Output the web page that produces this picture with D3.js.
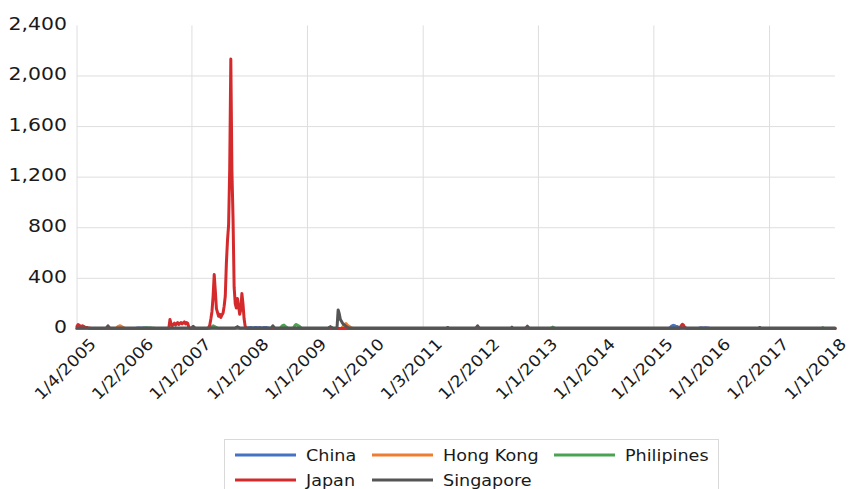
<!DOCTYPE html>
<html>
<head>
<meta charset="utf-8">
<script src="https://cdn.jsdelivr.net/npm/d3@7"></script>
<style>
  html, body { margin: 0; padding: 0; background: #fff; }
  svg { display: block; font-family: "DejaVu Sans", sans-serif; }
</style>
</head>
<body>
<svg id="chart" width="859" height="489"></svg>
<script>
// Weekly observations, first week starting 1/4/2005 (one row per year, 52 weeks).
const firstWeek = "1/4/2005";

const china = [
  4,4,4,4,4,4,4,4,4,4,4,4,4, 4,4,4,4,4,4,4,4,4,4,4,4,4, 4,4,4,4,4,4,4,4,4,4,4,4,4, 4,4,4,4,4,4,4,4,4,4,4,4,4,
  4,4,6,8,7,8,6,7,8,6,7,8,6, 5,5,4,4,4,4,4,4,4,4,4,4,4, 4,4,4,4,4,4,4,4,4,4,4,4,4, 4,4,4,4,4,4,4,4,4,4,4,4,4,
  4,4,4,4,4,4,4,4,4,4,4,4,4, 4,4,4,4,4,4,4,4,4,4,4,4,4, 4,4,4,4,4,4,4,4,4,4,4,4,4, 4,4,4,4,4,4,4,4,4,4,4,8,10,
  10,12,10,8,10,12,11,9,10,12,10,8,9, 11,10,12,9,8,6,4,4,4,4,4,4,4, 4,4,4,4,4,4,4,4,4,4,4,4,4, 4,4,4,4,4,4,4,4,4,4,4,4,4,
  4,4,4,4,4,4,4,4,4,4,4,4,4, 4,4,4,4,4,4,4,4,4,4,4,4,4, 4,4,4,4,4,4,4,4,4,4,4,4,4, 4,4,4,4,4,4,4,4,4,4,4,4,4,
  4,4,4,4,4,4,4,4,4,4,4,4,4, 4,4,4,4,4,4,4,4,4,4,4,4,4, 4,4,4,4,4,4,4,4,4,4,4,4,4, 4,4,4,4,4,4,4,4,4,4,4,4,4,
  4,4,4,4,4,4,4,4,4,4,4,4,4, 4,4,4,4,4,4,4,4,4,4,4,4,4, 4,4,4,4,4,4,4,4,4,4,4,4,4, 4,4,4,4,4,4,4,4,4,4,4,4,4,
  4,4,4,4,4,4,4,4,4,4,4,4,4, 4,4,4,4,4,4,4,4,4,4,4,4,4, 4,4,4,4,4,4,4,4,4,4,4,4,4, 4,4,4,4,4,4,4,4,4,4,4,4,4,
  4,4,4,4,4,4,4,4,4,4,4,4,4, 4,4,4,4,4,4,4,4,4,4,4,4,4, 4,4,4,4,4,4,4,4,4,4,4,4,4, 4,4,4,4,4,4,4,4,4,4,4,4,4,
  4,4,4,4,4,4,4,4,4,4,4,4,4, 4,4,4,4,4,4,4,4,4,4,4,4,4, 4,4,4,4,4,4,4,4,4,4,4,4,4, 4,4,4,4,4,4,4,4,4,4,4,4,4,
  4,4,4,4,4,4,4,4,4,4,4,4,4, 4,4,4,10,20,25,28,25,22,20,15,12,8, 6,4,4,4,4,4,4,4,4,4,4,4,4, 4,4,4,4,8,9,8,7,8,9,8,7,6,
  4,4,4,4,4,4,4,4,4,4,4,4,4, 4,4,4,4,4,4,4,4,4,4,4,4,4, 4,4,4,4,4,4,4,4,4,4,4,4,4, 4,4,4,4,4,4,4,4,4,4,4,4,4,
  4,4,4,4,4,4,4,4,4,4,4,4,4, 4,4,4,4,4,4,4,4,4,4,4,4,4, 4,4,4,4,4,4,4,4,4,4,4,4,4, 4,4,4,4,4,4,4,4,4,4,4,4,4,
  4,4,4,4,4,4,4,4,4,4
];

const hongKong = [
  4,4,4,4,4,4,4,4,4,4,4,4,4, 4,4,4,4,4,4,4,4,4,4,4,4,4, 4,4,4,4,4,4,4,4,4,4,10,18,22, 25,20,15,10,6,4,4,4,4,4,4,4,4,
  4,4,4,4,4,4,4,4,4,4,4,4,4, 4,4,4,4,4,4,4,4,4,4,4,4,4, 4,4,4,4,4,4,4,4,4,4,4,4,4, 4,4,4,4,4,4,4,4,4,4,4,4,4,
  4,4,4,4,4,4,4,4,4,4,4,4,4, 4,4,4,4,4,4,4,4,4,4,4,4,4, 4,4,4,4,4,4,4,4,4,4,4,4,4, 4,4,4,4,4,4,4,4,4,4,4,4,4,
  4,4,4,4,4,4,4,4,4,4,4,4,4, 4,4,4,4,4,4,4,4,4,4,4,4,4, 4,4,4,4,4,4,4,4,4,4,4,4,4, 4,4,4,4,4,4,4,4,4,4,4,4,4,
  4,4,4,4,4,4,4,4,4,4,4,4,4, 4,4,4,4,4,4,4,4,4,4,4,4,4, 4,4,4,4,4,4,15,25,35,42,32,25,20, 12,8,4,4,4,4,4,4,4,4,4,4,4,
  4,4,4,4,4,4,4,4,4,4,4,4,4, 4,4,4,4,4,4,4,4,4,4,4,4,4, 4,4,4,4,4,4,4,4,4,4,4,4,4, 4,4,4,4,4,4,4,4,4,4,4,4,4,
  4,4,4,4,4,4,4,4,4,4,4,4,4, 4,4,4,4,4,4,4,4,4,4,4,4,4, 4,4,4,4,4,4,4,4,4,4,4,4,4, 4,4,4,4,4,4,4,4,4,4,4,4,4,
  4,4,4,4,4,4,4,4,4,4,4,4,4, 4,4,4,4,4,4,4,4,4,4,4,4,4, 4,4,4,4,4,4,4,4,4,4,4,4,4, 4,4,4,4,4,4,4,4,4,4,4,4,4,
  4,4,4,4,4,4,4,4,4,4,4,4,4, 4,4,4,4,4,4,4,4,4,4,4,4,4, 4,4,4,4,4,4,4,4,4,4,4,4,4, 4,4,4,4,4,4,4,4,4,4,4,4,4,
  4,4,4,4,4,4,4,4,4,4,4,4,4, 4,4,4,4,4,4,4,4,4,4,4,4,4, 4,4,4,4,4,4,4,4,4,4,4,4,4, 4,4,4,4,4,4,4,4,4,4,4,4,4,
  4,4,4,4,4,4,4,4,4,4,4,4,4, 4,4,4,4,4,4,4,4,4,4,4,4,4, 4,4,4,4,4,4,4,4,4,4,4,4,4, 4,4,4,4,4,4,4,4,4,4,4,4,4,
  4,4,4,4,4,4,4,4,4,4,4,4,4, 4,4,4,4,4,4,4,4,4,4,4,4,4, 4,4,4,4,4,4,4,4,4,4,4,4,4, 4,4,4,4,4,4,4,4,4,4,4,4,4,
  4,4,4,4,4,4,4,4,4,4,4,4,4, 4,4,4,4,4,4,4,4,4,4,4,4,4, 4,4,4,4,4,4,4,4,4,4,4,4,4, 4,4,4,4,4,4,4,4,4,4,4,4,4,
  4,4,4,4,4,4,4,4,4,4
];

const philippines = [
  4,4,4,4,4,4,4,4,4,4,4,4,4, 4,4,4,4,4,4,4,4,4,4,4,4,4, 4,4,4,4,4,4,4,4,4,4,4,4,4, 4,4,4,4,4,4,4,4,4,4,4,4,4,
  4,4,4,4,4,4,4,4,6,7,6,8,7, 6,7,8,6,6,5,4,4,4,4,4,4,4, 4,4,4,4,4,4,4,4,4,4,4,4,4, 4,4,4,4,4,4,4,4,4,4,4,4,4,
  4,4,4,4,4,4,4,4,4,4,4,4,4, 4,4,4,4,10,18,24,20,15,10,6,4,4, 4,4,4,4,4,4,4,4,4,4,4,4,4, 4,4,4,4,4,4,4,4,4,4,4,4,4,
  4,4,4,4,4,4,4,4,4,4,4,4,4, 4,4,4,4,4,4,4,4,4,4,4,4,4, 4,4,8,20,28,30,22,15,8,4,4,4,4, 4,12,28,35,30,25,20,12,6,4,4,4,4,
  4,4,4,4,4,4,4,4,4,4,4,4,4, 4,4,4,4,4,4,4,4,4,4,4,4,4, 4,4,4,4,4,4,4,4,4,4,4,4,4, 4,4,4,4,4,4,4,4,4,4,4,4,4,
  4,4,4,4,4,4,4,4,4,4,4,4,4, 4,4,4,4,4,4,4,4,4,4,4,4,4, 4,4,4,4,4,4,4,4,4,4,4,4,4, 4,4,4,4,4,4,4,4,4,4,4,4,4,
  4,4,4,4,4,4,4,4,4,4,4,4,4, 4,4,4,4,4,4,4,4,4,4,4,4,4, 4,4,4,4,4,4,4,4,4,4,4,4,4, 4,4,4,4,4,4,4,4,4,4,4,4,4,
  4,4,4,4,4,4,4,4,4,4,4,4,4, 4,4,4,4,4,4,4,4,4,4,4,4,4, 4,4,4,4,4,4,4,4,4,4,4,4,4, 4,4,4,4,4,4,4,4,4,4,4,4,4,
  4,4,4,4,4,4,4,4,4,4,4,4,4, 8,14,8,4,4,4,4,4,4,4,4,4,4, 4,4,4,4,4,4,4,4,4,4,4,4,4, 4,4,4,4,4,4,4,4,4,4,4,4,4,
  4,4,4,4,4,4,4,4,4,4,4,4,4, 4,4,4,4,4,4,4,4,4,4,4,4,4, 4,4,4,4,4,4,4,4,4,4,4,4,4, 4,4,4,4,4,4,4,4,4,4,4,4,4,
  4,4,4,4,4,4,4,4,4,4,4,4,4, 4,4,4,4,4,4,4,4,4,4,4,4,4, 4,4,4,4,4,4,4,4,4,4,4,4,4, 4,4,4,4,4,4,4,4,4,4,4,4,4,
  4,4,4,4,4,4,4,4,4,4,4,4,4, 4,4,4,4,4,4,4,4,4,4,4,4,4, 4,4,4,4,4,4,4,4,4,4,4,4,4, 4,4,4,4,4,4,4,4,4,4,4,4,4,
  4,4,4,4,4,4,4,4,4,4,4,4,4, 4,4,4,4,4,4,4,4,4,4,4,4,4, 4,4,4,4,4,4,4,4,4,4,4,4,4, 4,4,4,4,4,4,4,4,4,4,4,10,4,
  4,4,4,4,4,4,4,4,4,4
];

const japan = [
  20,35,28,22,18,25,20,15,10,12,8,6,5, 4,4,4,4,4,4,4,4,4,4,4,4,4, 4,4,4,4,4,4,4,4,4,4,4,4,4, 4,4,4,4,4,4,4,4,4,4,4,4,4,
  4,4,4,4,4,4,4,4,4,4,4,4,4, 4,4,4,4,4,4,4,4,4,4,4,4,4, 4,4,4,4,4,5,75,40,25,35,45,30,40, 50,35,45,50,40,48,55,40,50,45,15,5,4,
  4,4,4,4,4,4,4,4,4,4,4,4,4, 4,5,10,30,80,140,260,430,300,160,130,100,115, 90,110,125,180,260,520,700,820,1270,2135,1250,880,330, 200,165,240,180,115,150,280,200,80,20,5,4,4,
  4,4,4,4,4,4,4,4,4,4,4,4,4, 4,4,4,4,4,4,4,4,4,4,4,4,4, 4,4,4,4,4,4,4,4,4,4,4,4,4, 4,4,4,4,4,4,4,4,4,4,4,4,4,
  4,4,4,4,4,4,4,4,4,4,4,4,4, 4,4,4,4,4,4,4,4,4,4,4,4,4, 4,4,4,4,4,4,4,4,4,4,4,4,4, 4,4,4,4,4,4,4,4,4,4,4,4,4,
  4,4,4,4,4,4,4,4,4,4,4,4,4, 4,4,4,4,4,4,4,4,4,4,4,4,4, 4,4,4,4,4,4,4,4,4,4,4,4,4, 4,4,4,4,4,4,4,4,4,4,4,4,4,
  4,4,4,4,4,4,4,4,4,4,4,4,4, 4,4,4,4,4,4,4,4,4,4,4,4,4, 4,4,4,4,4,4,4,4,4,4,4,4,4, 4,4,4,4,4,4,4,4,4,4,4,4,4,
  4,4,4,4,4,4,4,4,4,4,4,4,4, 4,4,4,4,4,4,4,4,4,4,4,4,4, 4,4,4,4,4,4,4,4,4,4,4,4,4, 4,4,4,4,4,4,4,4,4,4,4,4,4,
  4,4,4,4,4,4,4,4,4,4,4,4,4, 4,4,4,4,4,4,4,4,4,4,4,4,4, 4,4,4,4,4,4,4,4,4,4,4,4,4, 4,4,4,4,4,4,4,4,4,4,4,4,4,
  4,4,4,4,4,4,4,4,4,4,4,4,4, 4,4,4,4,4,4,4,4,4,4,4,4,4, 4,4,4,4,4,4,4,4,4,4,4,4,4, 4,4,4,4,4,4,4,4,4,4,4,4,4,
  4,4,4,4,4,4,4,4,4,4,4,4,4, 4,4,4,4,4,4,4,4,4,4,4,4,10, 25,36,30,15,8,4,4,4,4,4,4,4,4, 4,4,4,4,4,4,4,4,4,4,4,4,4,
  4,4,4,4,4,4,4,4,4,4,4,4,4, 4,4,4,4,4,4,4,4,4,4,4,4,4, 4,4,4,4,4,4,4,4,4,4,4,4,4, 4,4,4,4,4,4,4,4,4,4,4,4,4,
  4,4,4,4,4,4,4,4,4,4,4,4,4, 4,4,4,4,4,4,4,4,4,4,4,4,4, 4,4,4,4,4,4,4,4,4,4,4,4,4, 4,4,4,4,4,4,4,4,4,4,4,4,4,
  4,4,4,4,4,4,4,4,4,4
];

const singapore = [
  8,8,8,8,8,8,8,8,8,8,8,8,8, 8,8,8,8,8,8,8,8,8,8,8,8,8, 8,12,25,12,8,8,8,8,8,8,8,8,8, 8,8,8,8,8,8,8,8,8,8,8,8,8,
  8,8,8,8,8,8,8,8,8,8,8,8,8, 8,8,8,8,8,8,8,8,8,8,8,8,8, 8,8,8,8,8,8,8,8,8,8,8,8,8, 8,8,8,8,8,8,8,8,8,8,8,8,8,
  12,20,12,8,8,8,8,8,8,8,8,8,8, 8,8,8,8,8,8,8,8,8,8,8,8,8, 8,8,8,8,8,8,8,8,8,8,8,8,8, 8,12,18,12,8,8,8,8,8,8,8,8,8,
  8,8,8,8,8,8,8,8,8,8,8,8,8, 8,8,8,8,8,8,8,12,25,12,8,8,8, 8,8,8,8,8,8,8,8,8,8,8,8,8, 8,8,8,8,8,8,8,8,8,8,8,8,8,
  8,8,8,8,8,8,8,8,8,8,8,8,8, 8,8,8,8,8,8,8,12,18,12,8,8,8, 8,12,150,120,75,60,45,35,28,22,15,10,8, 8,8,8,8,8,8,8,8,8,8,8,8,8,
  8,8,8,8,8,8,8,8,8,8,8,8,8, 8,8,8,8,8,8,8,8,8,8,8,8,8, 8,8,8,8,8,8,8,8,8,8,8,8,8, 8,8,8,8,8,8,8,8,8,8,8,8,8,
  8,8,8,8,8,8,8,8,8,8,8,8,8, 8,8,8,8,8,8,8,8,8,8,12,8,8, 8,8,8,8,8,8,8,8,8,8,8,8,8, 8,8,8,8,8,8,8,8,8,8,12,25,12,
  8,8,8,8,8,8,8,8,8,8,8,8,8, 8,8,8,8,8,8,8,8,8,8,8,8,8, 8,8,8,14,8,8,8,8,8,8,8,8,8, 8,8,8,12,22,12,8,8,8,8,8,8,8,
  8,8,8,8,8,8,8,8,8,8,8,8,8, 8,8,8,8,8,8,8,8,8,8,8,8,8, 8,8,8,8,8,8,8,8,8,8,8,8,8, 8,8,8,8,8,8,8,8,8,8,8,8,8,
  8,8,8,8,8,8,8,8,8,8,8,8,8, 8,8,8,8,8,8,8,8,8,8,8,8,8, 8,8,8,8,8,8,8,8,8,8,8,8,8, 8,8,8,8,8,8,8,8,8,8,8,8,8,
  8,8,8,8,8,8,8,8,8,8,8,8,8, 8,8,8,8,8,8,8,8,8,8,8,8,8, 8,8,8,8,8,8,8,8,8,8,8,8,8, 8,8,8,8,8,8,8,8,8,8,8,8,8,
  8,8,8,8,8,8,8,8,8,8,8,8,8, 8,8,8,8,8,8,8,8,8,8,8,8,8, 8,8,8,8,8,8,8,8,8,8,8,8,8, 8,8,8,8,8,8,12,8,8,8,8,8,8,
  8,8,8,8,8,8,8,8,8,8,8,8,8, 8,8,8,8,8,8,8,8,8,8,8,8,8, 8,8,8,8,8,8,8,8,8,8,8,8,8, 8,8,8,8,8,8,8,8,8,8,8,8,8,
  8,8,8,8,8,8,8,8,8,8
];

const seriesNames = ["China", "Hong Kong", "Philipines", "Japan", "Singapore"];
const seriesColors = ["#4472C4", "#ED7D31", "#4AA352", "#D42A2C", "#555555"];
const seriesValues = [china, hongKong, philippines, japan, singapore];

const xTickLabels = ["1/4/2005", "1/2/2006", "1/1/2007", "1/1/2008", "1/1/2009", "1/1/2010", "1/3/2011",
                     "1/2/2012", "1/1/2013", "1/1/2014", "1/1/2015", "1/1/2016", "1/2/2017", "1/1/2018"];
const yTicks = [0, 400, 800, 1200, 1600, 2000, 2400];

// ---- drawing ----
const svg = d3.select("#chart");
const parseDate = d3.timeParse("%m/%d/%Y");
const start = parseDate(firstWeek);
const weekDates = d3.range(china.length).map(i => d3.timeDay.offset(start, 7 * i));

const plot = { left: 77, right: 835, top: 25.4, bottom: 328.9 };

const x = d3.scaleTime()
  .domain([weekDates[0], weekDates[weekDates.length - 1]])
  .range([plot.left, plot.right]);
const y = d3.scaleLinear().domain([0, 2400]).range([plot.bottom, plot.top]);

const tickDates = xTickLabels.map(parseDate);
const gridColor = "#dedede";

// horizontal gridlines
svg.append("g").selectAll("line")
  .data(yTicks.filter(v => v > 0 && v < 2400))
  .join("line")
  .attr("x1", plot.left).attr("x2", plot.right)
  .attr("y1", d => y(d)).attr("y2", d => y(d))
  .attr("stroke", gridColor).attr("stroke-width", 1);

// vertical gridlines every second label
svg.append("g").selectAll("line")
  .data(tickDates.filter((d, i) => i % 2 === 0))
  .join("line")
  .attr("x1", d => x(d)).attr("x2", d => x(d))
  .attr("y1", plot.top).attr("y2", plot.bottom)
  .attr("stroke", gridColor).attr("stroke-width", 1);

// horizontal axis line
svg.append("line")
  .attr("x1", plot.left).attr("x2", plot.right)
  .attr("y1", y(0)).attr("y2", y(0))
  .attr("stroke", "#bfbfbf").attr("stroke-width", 1);

// y-axis labels
const fmt = d3.format(",");
svg.append("g").selectAll("text")
  .data(yTicks)
  .join("text")
  .attr("transform", d => `translate(67,${y(d) + 4.3}) scale(1.2,1)`)
  .attr("text-anchor", "end")
  .attr("font-size", 17)
  .attr("fill", "#1a1a1a")
  .text(d => fmt(d));

// x-axis labels, rotated
svg.append("g").selectAll("text")
  .data(xTickLabels)
  .join("text")
  .attr("transform", (d, i) => `translate(${x(tickDates[i]) + 20},345) rotate(-45) scale(1.1,1)`)
  .attr("text-anchor", "end")
  .attr("font-size", 16)
  .attr("fill", "#1a1a1a")
  .text(d => d);

// series lines
const line = d3.line()
  .x((d, i) => x(weekDates[i]))
  .y(d => y(d));

svg.append("g").selectAll("path")
  .data(seriesValues)
  .join("path")
  .attr("d", d => line(d))
  .attr("fill", "none")
  .attr("stroke", (d, i) => seriesColors[i])
  .attr("stroke-width", 3)
  .attr("stroke-linejoin", "round")
  .attr("stroke-linecap", "round");

// legend
const legend = svg.append("g");
legend.append("rect")
  .attr("x", 224.5).attr("y", 439.5)
  .attr("width", 494).attr("height", 60)
  .attr("fill", "#fff").attr("stroke", "#d9d9d9");

const legendPos = [
  { x: 235, y: 455 }, { x: 372, y: 455 }, { x: 554, y: 455 },
  { x: 235, y: 480 }, { x: 372, y: 480 }
];
const items = legend.selectAll("g.item")
  .data(seriesNames)
  .join("g")
  .attr("class", "item")
  .attr("transform", (d, i) => `translate(${legendPos[i].x},${legendPos[i].y})`);
items.append("line")
  .attr("x1", 0).attr("x2", 61)
  .attr("stroke", (d, i) => seriesColors[i])
  .attr("stroke-width", 3);
items.append("text")
  .attr("transform", "translate(71,5.7) scale(1.1,1)")
  .attr("font-size", 16)
  .attr("fill", "#1a1a1a")
  .text(d => d);
</script>
</body>
</html>
